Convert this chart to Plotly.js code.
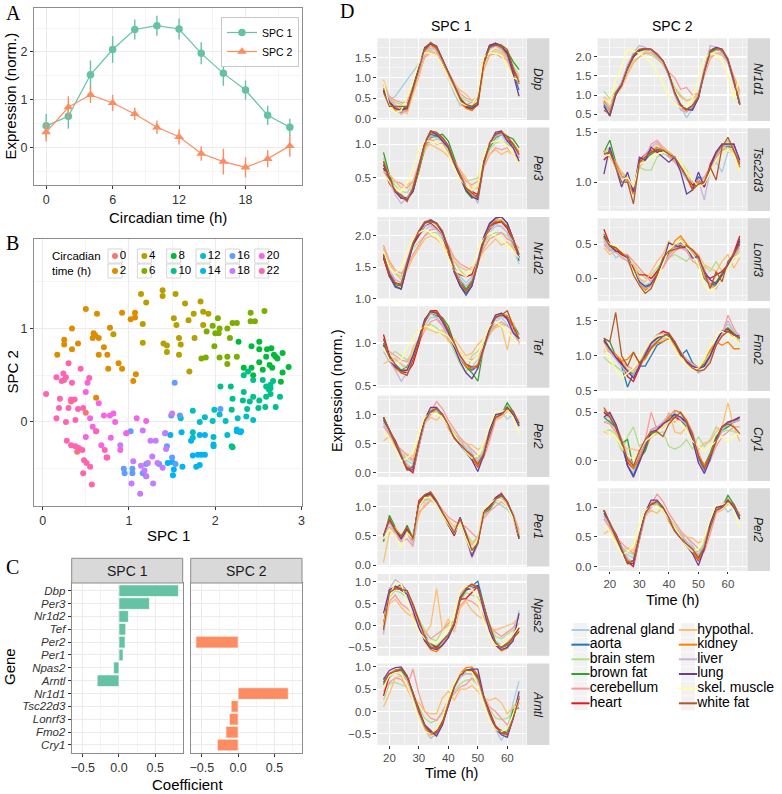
<!DOCTYPE html>
<html><head><meta charset="utf-8">
<script src="https://cdn.plot.ly/plotly-3.0.1.min.js"></script>
<style>html,body{margin:0;padding:0;background:#fff}#chart{width:782px;height:794px}</style>
</head><body><div id="chart"></div>
<script>
// ---------------- Panel A data ----------------
const circTime = [0,2,4,6,8,10,12,14,16,18,20,22];
const spc1Mean = [0.45,0.65,1.52,2.05,2.47,2.55,2.48,1.97,1.55,1.2,0.67,0.42];
const spc1Err  = [0.25,0.26,0.3,0.28,0.21,0.21,0.22,0.23,0.26,0.2,0.2,0.18];
const spc2Mean = [0.32,0.84,1.1,0.93,0.7,0.42,0.22,-0.13,-0.3,-0.42,-0.24,0.03];
const spc2Err  = [0.2,0.23,0.17,0.17,0.13,0.14,0.16,0.15,0.27,0.21,0.18,0.23];

// ---------------- Panel B data (SPC 1, SPC 2 per circadian time) ----------------
const ctLevels = [0,2,4,6,8,10,12,14,16,18,20,22];
const pts0 = [[0.4,-0.32],[0.33,0.22],[0.5,0.1],[0.25,0.45]];
const pts2 = [[0.5,1.21],[0.63,1.16],[0.34,1.0],[0.25,0.88],[0.25,0.83],[0.41,0.84],[0.17,0.72],[0.34,0.78],[0.59,0.95],[0.58,0.9],[0.65,0.9],[0.78,1.01],[0.71,0.8],[0.65,0.72],[0.75,0.72],[0.76,0.57],[0.88,0.63],[0.92,0.57],[1.08,0.51],[1.05,0.44],[0.62,0.26],[0.92,1.17],[1.02,1.1],[1.07,1.12],[1.07,1.17],[0.61,0.93]];
const pts4 = [[1.14,1.37],[1.2,1.28],[1.39,1.41],[1.39,1.35],[1.54,1.37],[1.65,1.27],[1.83,1.29],[1.86,1.18],[1.92,1.16],[1.75,1.16],[1.69,1.09],[1.52,1.11],[1.55,1.04],[1.86,1.04],[1.16,1.05],[1.16,0.85],[1.4,0.84],[1.44,0.82],[1.58,0.9],[1.6,0.83],[1.58,0.72],[1.44,0.75],[1.7,0.54],[1.76,0.9],[0.82,0.94]];
const pts6 = [[2.03,1.11],[2.05,1.0],[2.14,1.0],[2.2,1.06],[2.25,1.06],[1.99,0.81],[2.05,0.69],[2.14,0.7],[2.14,0.62],[2.25,0.7],[2.17,0.9],[2.41,1.17],[2.41,1.08],[2.46,1.08],[2.57,1.19],[2.04,0.95],[1.84,0.68],[1.89,0.69],[1.97,1.03],[1.9,0.97],[2.0,0.95]];
const pts8 = [[2.27,0.86],[2.42,0.81],[2.51,0.86],[2.51,0.78],[2.65,0.79],[2.7,0.7],[2.59,0.7],[2.78,0.74],[2.72,0.68],[2.85,0.59],[2.78,0.53],[2.76,0.43],[2.63,0.61],[2.51,0.64],[2.44,0.5],[2.33,0.58],[2.55,0.56],[2.66,0.58],[2.42,0.58],[2.6,0.78],[2.68,0.72]];
const pts10 = [[2.33,0.5],[2.44,0.45],[2.38,0.54],[2.55,0.45],[2.59,0.38],[2.64,0.4],[2.67,0.44],[2.64,0.3],[2.75,0.27],[2.59,0.27],[2.51,0.23],[2.44,0.27],[2.33,0.32],[2.32,0.23],[2.2,0.25],[2.06,0.38],[2.18,0.38],[2.37,0.14],[2.5,0.15],[2.58,0.16],[2.7,0.16],[2.4,0.22],[2.19,0.13],[2.19,-0.26],[2.2,-0.27],[2.62,0.35],[2.64,0.36]];
const pts12 = [[1.74,0.12],[1.99,0.13],[2.26,0.04],[2.36,0.06],[2.44,0.02],[2.12,0.01],[1.97,0.01],[1.82,0.0],[1.74,-0.11],[1.74,-0.17],[1.98,-0.16],[1.98,-0.26],[2.14,-0.14],[2.25,-0.08],[2.05,0.08],[1.88,0.05],[2.3,-0.1],[1.6,0.04]];
const pts14 = [[1.61,-0.11],[1.48,-0.14],[1.82,-0.14],[1.88,-0.14],[1.74,-0.36],[1.8,-0.35],[1.84,-0.35],[1.88,-0.35],[1.5,-0.43],[1.45,-0.44],[1.78,-0.48],[1.82,-0.46],[1.62,-0.48],[1.52,-0.51],[1.51,-0.57],[2.25,-0.1],[2.29,-0.11],[1.98,-0.24],[1.72,-0.2]];
const pts16 = [[1.53,0.42],[1.49,0.07],[1.59,0.07],[2.06,0.14],[0.94,-0.5],[0.95,-0.55],[1.04,-0.5],[1.04,-0.55],[1.16,-0.55],[1.2,-0.58],[1.42,-0.12],[1.44,-0.26],[1.5,-0.38],[1.54,-0.45],[1.2,-0.45],[1.35,-0.45],[1.02,-0.1]];
const pts18 = [[1.5,0.09],[0.97,-0.12],[1.16,-0.09],[1.31,-0.2],[1.43,-0.29],[1.05,-0.42],[1.14,-0.47],[1.27,-0.37],[1.33,-0.44],[1.22,-0.44],[1.2,-0.58],[1.28,-0.66],[1.03,-0.66],[1.13,-0.77],[1.39,-0.49],[1.42,-0.12],[1.18,-0.52],[1.25,-0.2],[0.9,-0.25]];
const pts20 = [[0.52,0.42],[0.5,0.32],[0.65,0.2],[0.78,0.07],[0.71,0.07],[0.82,0.09],[0.55,0.04],[0.84,0.0],[1.09,0.04],[1.2,0.01],[0.5,-0.16],[0.62,-0.1],[0.79,-0.17],[0.97,-0.12],[0.74,-0.38],[0.68,-0.25],[0.9,-0.3],[0.58,-0.05]];
const pts22 = [[0.3,0.63],[0.16,0.48],[0.24,0.52],[0.27,0.48],[0.22,0.44],[0.34,0.42],[0.44,0.57],[0.54,0.47],[0.04,0.3],[0.2,0.25],[0.33,0.24],[0.37,0.24],[0.19,0.15],[0.3,0.15],[0.41,0.14],[0.47,0.15],[0.16,0.04],[0.27,0.0],[0.38,0.02],[0.28,-0.2],[0.33,-0.25],[0.38,-0.26],[0.42,-0.28],[0.48,-0.41],[0.51,-0.44],[0.55,-0.48],[0.47,-0.55],[0.57,-0.67],[0.62,-0.1],[0.75,-0.38],[0.72,-0.3],[0.46,-0.3]];
const ptsByLevel = [pts0,pts2,pts4,pts6,pts8,pts10,pts12,pts14,pts16,pts18,pts20,pts22];

// ---------------- Panel C data ----------------
const genes = ['Dbp','Per3','Nr1d2','Tef','Per2','Per1','Npas2','Arntl','Nr1d1','Tsc22d3','Lonrf3','Fmo2','Cry1'];
const coefSPC1 = [0.82,0.42,0.13,0.093,0.084,0.056,-0.074,-0.3,0,0,0,0,0];
const coefSPC2 = [0,0,0,0,-0.58,0,0,0,0.69,-0.095,-0.12,-0.167,-0.285];

// ---------------- Panel D data ----------------
const timeH = [18,20,22,24,26,28,30,32,34,36,38,40,42,44,46,48,50,52,54,56,58,60,62,64];
const tissues = ['adrenal gland','aorta','brain stem','brown fat','cerebellum','heart','hypothal.','kidney','liver','lung','skel. muscle','white fat'];
const dbp = [
[0.75,0.45,0.55,0.75,0.95,1.15,1.35,1.6,1.72,1.7,1.35,1.0,0.62,0.32,0.32,0.35,0.5,1.35,1.7,1.78,1.7,1.5,1.1,0.95],
[0.7,0.4,0.25,0.22,0.3,0.8,1.25,1.72,1.82,1.75,1.45,1.1,0.75,0.45,0.28,0.25,0.4,1.4,1.78,1.85,1.75,1.55,1.1,0.7],
[0.85,0.5,0.4,0.35,0.45,0.8,1.15,1.55,1.65,1.6,1.35,1.1,0.8,0.55,0.45,0.4,0.5,1.25,1.6,1.65,1.6,1.5,1.3,1.05],
[0.75,0.42,0.28,0.25,0.28,0.72,1.2,1.7,1.8,1.72,1.42,1.1,0.78,0.5,0.33,0.3,0.4,1.35,1.75,1.8,1.75,1.65,1.4,1.2],
[0.9,0.55,0.45,0.4,0.4,0.75,1.1,1.5,1.62,1.55,1.4,1.15,0.9,0.62,0.5,0.45,0.55,1.2,1.55,1.6,1.5,1.45,1.2,1.0],
[0.7,0.4,0.25,0.22,0.25,0.75,1.22,1.7,1.85,1.72,1.4,1.05,0.72,0.42,0.28,0.2,0.35,1.4,1.8,1.82,1.72,1.62,1.2,0.85],
[0.95,0.5,0.35,0.2,0.12,0.6,1.0,1.55,1.68,1.6,1.3,1.05,0.85,0.7,0.6,0.45,0.3,1.2,1.6,1.7,1.65,1.4,1.05,1.0],
[0.75,0.4,0.2,0.15,0.2,0.7,1.15,1.65,1.8,1.72,1.45,1.1,0.72,0.4,0.25,0.2,0.35,1.35,1.75,1.8,1.72,1.55,1.1,0.85],
[0.85,0.5,0.3,0.1,0.25,0.7,1.2,1.6,1.78,1.65,1.4,1.1,0.75,0.5,0.35,0.4,0.55,1.45,1.75,1.78,1.7,1.5,1.05,0.9],
[0.7,0.4,0.25,0.2,0.25,0.78,1.25,1.75,1.85,1.78,1.45,1.12,0.8,0.5,0.3,0.25,0.35,1.4,1.8,1.85,1.8,1.6,1.1,0.55],
[0.9,0.3,0.15,0.2,0.5,0.95,1.35,1.62,1.6,1.55,1.3,1.0,0.68,0.4,0.32,0.35,0.6,1.5,1.62,1.6,1.55,1.3,1.0,0.95],
[0.65,0.3,0.3,0.3,0.3,0.72,1.2,1.72,1.87,1.75,1.45,1.12,0.8,0.5,0.35,0.3,0.4,1.35,1.75,1.8,1.8,1.7,1.25,0.9]];
const per3 = [
[0.65,0.45,0.3,0.25,0.2,0.35,0.7,1.0,1.1,1.12,1.05,0.95,0.72,0.5,0.32,0.3,0.4,0.75,0.98,1.05,1.15,1.0,0.95,0.85],
[0.7,0.48,0.3,0.2,0.2,0.3,0.62,0.98,1.15,1.12,1.1,0.98,0.72,0.52,0.32,0.22,0.2,0.7,0.98,1.12,1.15,1.1,1.0,0.85],
[0.8,0.55,0.38,0.3,0.28,0.4,0.65,0.9,1.05,1.08,1.05,0.9,0.7,0.55,0.45,0.48,0.5,0.7,0.92,1.02,1.05,1.0,0.95,0.85],
[0.88,0.55,0.3,0.2,0.2,0.3,0.6,0.95,1.1,1.12,1.15,1.05,0.8,0.52,0.3,0.2,0.25,0.75,0.95,1.1,1.15,1.12,1.08,0.95],
[0.7,0.55,0.45,0.42,0.35,0.45,0.7,0.95,1.08,1.0,1.02,0.85,0.7,0.6,0.45,0.4,0.45,0.65,0.85,0.95,0.92,0.95,0.85,0.8],
[0.65,0.42,0.3,0.22,0.2,0.35,0.68,1.02,1.18,1.15,1.08,0.95,0.75,0.55,0.38,0.3,0.25,0.72,1.02,1.15,1.18,1.1,0.95,0.8],
[0.6,0.55,0.45,0.35,0.4,0.45,0.68,0.95,1.0,0.95,0.9,0.82,0.75,0.62,0.5,0.35,0.35,0.7,0.85,0.92,0.85,0.9,0.85,0.72],
[0.75,0.5,0.32,0.22,0.18,0.3,0.62,0.98,1.18,1.15,1.08,0.98,0.75,0.55,0.35,0.25,0.2,0.7,1.0,1.15,1.2,1.1,1.02,0.88],
[0.6,0.45,0.25,0.12,0.2,0.35,0.7,1.0,1.12,1.1,1.05,0.95,0.75,0.55,0.38,0.3,0.12,0.68,0.98,1.12,1.15,1.05,0.95,0.8],
[0.7,0.5,0.3,0.2,0.18,0.3,0.65,1.02,1.2,1.15,1.05,0.95,0.72,0.5,0.32,0.22,0.18,0.72,1.0,1.18,1.2,1.05,0.95,0.75],
[0.55,0.45,0.35,0.3,0.42,0.65,0.9,1.05,1.05,1.02,0.98,0.85,0.65,0.48,0.38,0.32,0.4,0.85,1.02,1.05,1.05,0.98,0.85,0.7],
[0.75,0.5,0.3,0.25,0.15,0.35,0.68,1.0,1.2,1.18,1.1,0.98,0.75,0.55,0.35,0.28,0.2,0.7,1.02,1.15,1.18,1.12,1.0,0.85]];
const nr1d2 = [
[1.7,1.4,1.3,1.25,1.55,1.85,2.0,2.1,2.15,2.1,2.0,1.75,1.5,1.35,1.25,1.35,1.6,1.9,2.05,2.15,2.15,2.05,1.8,1.55],
[1.65,1.35,1.18,1.15,1.5,1.85,2.05,2.22,2.25,2.2,2.05,1.75,1.42,1.2,1.05,1.2,1.55,1.95,2.18,2.28,2.3,2.2,1.95,1.6],
[1.8,1.55,1.4,1.35,1.6,1.8,1.9,2.0,2.05,2.05,1.95,1.8,1.6,1.45,1.35,1.4,1.6,1.85,2.0,2.05,2.05,2.0,1.85,1.75],
[1.7,1.4,1.22,1.2,1.55,1.85,2.05,2.2,2.22,2.2,2.05,1.8,1.5,1.3,1.15,1.28,1.6,1.95,2.15,2.2,2.22,2.12,1.92,1.7],
[1.85,1.6,1.45,1.4,1.5,1.7,1.85,2.0,2.1,2.1,2.0,1.85,1.65,1.55,1.5,1.45,1.55,1.8,1.95,2.0,2.05,1.95,1.9,1.8],
[1.65,1.35,1.25,1.22,1.55,1.85,2.0,2.15,2.2,2.12,2.0,1.72,1.45,1.38,1.35,1.38,1.6,1.9,2.1,2.2,2.22,2.12,1.9,1.65],
[1.8,1.55,1.4,1.3,1.45,1.65,1.8,1.95,2.0,1.95,1.85,1.75,1.6,1.5,1.45,1.5,1.6,1.75,1.85,1.95,1.85,1.9,1.8,1.7],
[1.7,1.38,1.2,1.15,1.55,1.88,2.08,2.22,2.25,2.18,2.05,1.75,1.45,1.22,1.08,1.22,1.55,1.95,2.15,2.25,2.25,2.15,1.95,1.65],
[1.75,1.45,1.3,1.25,1.6,1.9,2.05,2.15,2.18,2.1,2.0,1.8,1.5,1.3,1.2,1.3,1.62,1.95,2.12,2.18,2.15,2.05,1.9,1.7],
[1.7,1.38,1.2,1.15,1.52,1.85,2.05,2.2,2.25,2.2,2.05,1.78,1.42,1.2,1.08,1.2,1.58,1.98,2.2,2.28,2.3,2.2,1.95,1.65],
[1.75,1.5,1.4,1.5,1.75,1.95,2.05,2.1,2.05,2.0,1.85,1.65,1.45,1.4,1.35,1.45,1.8,1.95,2.05,2.0,1.95,1.85,1.75,1.65],
[1.7,1.4,1.25,1.22,1.58,1.88,2.08,2.22,2.22,2.2,2.08,1.8,1.45,1.25,1.12,1.25,1.55,1.92,2.15,2.22,2.22,2.15,1.95,1.7]];
const tef = [
[0.95,0.85,0.8,0.75,0.72,0.85,1.0,1.2,1.3,1.3,1.2,1.1,0.95,0.82,0.75,0.72,0.8,0.95,1.12,1.25,1.3,1.22,1.12,1.0],
[1.05,0.85,0.75,0.68,0.68,0.82,1.02,1.25,1.37,1.35,1.27,1.15,0.98,0.82,0.72,0.68,0.72,0.95,1.15,1.3,1.33,1.3,1.18,1.05],
[0.95,0.85,0.9,0.85,0.8,0.9,1.05,1.2,1.22,1.18,1.1,1.05,0.9,0.75,0.65,0.85,0.9,1.0,1.1,1.2,1.22,1.2,1.15,1.05],
[1.0,0.82,0.72,0.68,0.72,0.85,1.05,1.25,1.35,1.32,1.3,1.2,1.0,0.82,0.72,0.65,0.55,0.95,1.15,1.3,1.32,1.3,1.22,1.1],
[0.95,0.9,0.85,0.8,0.78,0.85,1.0,1.15,1.25,1.28,1.2,1.05,0.95,0.88,0.82,0.8,0.85,0.95,1.1,1.2,1.25,1.2,1.15,1.1],
[1.1,0.85,0.72,0.66,0.65,0.75,0.98,1.25,1.38,1.38,1.28,1.15,1.0,0.85,0.75,0.7,0.72,0.95,1.15,1.3,1.33,1.3,1.18,1.0],
[0.75,0.8,0.82,0.75,0.68,0.95,1.05,1.18,1.15,1.12,1.15,1.02,1.05,0.95,0.85,0.88,0.98,1.05,1.12,1.18,1.2,0.92,1.25,0.98],
[0.98,0.8,0.7,0.65,0.68,0.82,1.02,1.25,1.37,1.35,1.28,1.15,0.98,0.82,0.72,0.7,0.75,0.95,1.15,1.32,1.35,1.32,1.2,1.05],
[0.9,0.78,0.68,0.55,0.65,0.82,1.05,1.28,1.35,1.3,1.22,1.1,0.95,0.82,0.75,0.72,0.7,0.92,1.12,1.28,1.32,1.28,1.15,1.0],
[0.98,0.8,0.72,0.67,0.68,0.85,1.05,1.28,1.37,1.35,1.25,1.12,0.95,0.78,0.65,0.58,0.7,0.95,1.18,1.33,1.35,1.28,1.12,1.05],
[0.95,0.8,0.75,0.8,0.95,1.05,1.15,1.2,1.18,1.15,1.12,1.08,0.98,0.88,0.82,0.78,0.85,1.05,1.2,1.25,1.2,1.12,1.05,1.0],
[1.05,0.85,0.75,0.65,0.62,0.8,1.02,1.25,1.38,1.36,1.28,1.15,1.0,0.85,0.75,0.72,0.72,0.95,1.15,1.3,1.33,1.38,1.2,1.05]];
const per2 = [
[0.85,0.75,0.55,0.35,0.2,0.15,0.5,0.85,1.0,1.05,0.95,0.8,0.62,0.55,0.5,0.35,0.2,0.4,0.75,0.9,1.05,0.92,1.0,0.85],
[0.9,0.7,0.55,0.3,0.08,0.1,0.52,0.88,1.02,1.08,0.98,0.8,0.62,0.5,0.38,0.25,0.12,0.32,0.72,0.98,1.0,1.1,1.0,0.8],
[0.8,0.68,0.48,0.32,0.25,0.2,0.48,0.85,1.0,1.05,0.95,0.82,0.68,0.55,0.42,0.3,0.25,0.38,0.72,0.92,1.0,1.15,1.0,0.8],
[0.95,0.7,0.5,0.28,0.1,0.08,0.5,0.9,1.05,1.08,0.98,0.82,0.62,0.5,0.38,0.25,0.15,0.35,0.72,0.98,1.0,1.2,1.05,0.85],
[0.8,0.65,0.5,0.4,0.3,0.22,0.45,0.85,1.05,1.22,1.1,0.9,0.75,0.6,0.5,0.4,0.3,0.25,0.55,0.9,1.0,1.1,1.0,0.85],
[0.95,0.72,0.55,0.3,0.08,0.0,0.48,0.9,1.05,1.1,1.0,0.82,0.6,0.48,0.38,0.25,0.1,0.3,0.72,0.95,1.0,1.12,1.02,0.85],
[0.55,0.62,0.45,0.3,0.32,0.28,0.55,0.85,0.95,0.9,1.0,0.75,0.6,0.55,0.5,0.48,0.4,0.45,0.7,0.9,0.95,1.05,1.0,0.9],
[0.95,0.72,0.52,0.3,0.1,0.08,0.5,0.9,1.05,1.1,1.0,0.82,0.62,0.5,0.38,0.25,0.12,0.3,0.7,0.98,1.02,1.12,1.02,0.82],
[0.85,0.7,0.5,0.32,0.15,0.05,0.45,0.85,1.0,1.08,1.0,0.82,0.65,0.55,0.42,0.32,0.2,0.35,0.72,0.95,1.05,1.12,1.0,0.85],
[0.95,0.72,0.5,0.28,0.05,0.05,0.52,0.92,1.12,1.12,1.0,0.8,0.6,0.48,0.35,0.22,0.02,0.3,0.72,1.0,1.02,1.12,1.0,0.8],
[0.7,0.6,0.4,0.2,0.25,0.35,0.7,0.95,1.02,1.02,0.95,0.8,0.65,0.5,0.35,0.25,0.3,0.5,0.8,1.05,1.05,1.08,0.95,0.65],
[0.95,0.72,0.52,0.3,0.05,0.1,0.5,0.9,1.05,1.1,1.0,0.82,0.6,0.48,0.38,0.3,0.15,0.32,0.65,0.95,1.0,1.1,1.05,0.85]];
const per1 = [
[0.45,0.65,0.55,0.5,0.6,0.5,1.0,1.1,1.12,1.02,0.85,0.7,0.6,0.7,0.45,0.35,0.5,0.85,0.95,1.08,1.02,0.95,0.82,0.55],
[0.5,0.75,0.62,0.45,0.62,0.45,1.05,1.15,1.2,1.05,0.88,0.68,0.52,0.8,0.5,0.2,0.38,0.92,1.0,1.12,1.18,1.05,0.85,0.5],
[0.42,0.78,0.6,0.5,0.65,0.5,1.0,1.1,1.15,1.05,0.85,0.72,0.58,0.75,0.55,0.4,0.45,0.85,0.95,1.1,1.12,1.0,0.85,0.52],
[0.4,0.85,0.65,0.45,0.68,0.45,1.05,1.18,1.22,1.08,0.9,0.72,0.55,0.8,0.5,0.25,0.42,0.88,0.95,1.1,1.2,1.05,0.85,0.45],
[0.45,0.65,0.5,0.4,0.45,0.32,0.9,1.0,1.1,1.08,0.95,0.82,0.75,0.7,0.65,0.55,0.45,0.8,0.92,1.0,1.08,1.0,0.88,0.6],
[0.5,0.78,0.6,0.45,0.58,0.42,1.1,1.2,1.22,1.08,0.88,0.7,0.5,0.78,0.48,0.22,0.38,0.9,1.0,1.15,1.22,1.08,0.85,0.48],
[0.05,0.55,0.65,0.5,0.58,0.42,0.85,1.05,1.1,1.05,0.9,0.78,0.65,0.75,0.55,0.35,0.45,0.95,1.0,1.1,1.25,1.0,0.88,0.55],
[0.48,0.75,0.58,0.45,0.6,0.42,1.02,1.15,1.2,1.05,0.88,0.7,0.55,0.8,0.52,0.22,0.42,0.92,1.0,1.12,1.2,1.05,0.85,0.5],
[0.45,0.72,0.55,0.42,0.55,0.35,0.98,1.12,1.15,1.05,0.9,0.72,0.58,0.78,0.45,0.12,0.35,0.88,0.98,1.1,1.15,1.05,0.88,0.5],
[0.5,0.78,0.6,0.45,0.62,0.45,1.05,1.18,1.22,1.08,0.88,0.7,0.52,0.82,0.48,0.15,0.38,0.92,1.0,1.15,1.22,1.08,0.82,0.45],
[0.45,0.62,0.5,0.3,0.55,0.45,1.0,1.15,1.15,1.02,0.85,0.7,0.55,0.72,0.45,0.22,0.45,0.95,1.05,1.12,1.12,1.0,0.8,0.5],
[0.5,0.8,0.6,0.5,0.65,0.45,1.05,1.2,1.25,1.1,0.9,0.72,0.55,0.8,0.55,0.25,0.38,0.9,0.98,1.12,1.2,1.08,0.85,0.48]];
const npas2 = [
[-0.05,0.75,0.9,0.85,0.75,0.4,0.05,-0.2,-0.42,-0.5,-0.38,-0.25,0.0,0.55,0.8,0.9,0.85,0.45,0.0,-0.35,-0.45,-0.42,-0.25,0.35],
[0.0,0.78,0.85,0.95,0.78,0.42,0.05,-0.22,-0.48,-0.5,-0.35,-0.2,0.05,0.65,0.82,0.9,1.02,0.45,-0.05,-0.4,-0.5,-0.45,-0.28,-0.05],
[-0.15,0.65,0.8,0.75,0.65,0.45,0.15,-0.1,-0.3,-0.35,-0.1,0.0,0.1,0.55,0.75,0.7,0.65,0.4,0.05,-0.25,-0.3,-0.2,-0.1,0.05],
[0.0,0.8,0.88,0.82,0.78,0.45,0.05,-0.3,-0.42,-0.48,-0.35,-0.2,0.02,0.6,0.82,0.92,0.9,0.45,-0.05,-0.38,-0.5,-0.45,-0.3,-0.12],
[-0.1,0.55,0.7,0.5,0.4,0.25,0.05,-0.15,-0.3,-0.2,-0.1,0.05,0.1,0.45,0.6,0.55,0.45,0.2,0.0,-0.15,-0.25,-0.15,-0.05,0.2],
[0.0,0.8,0.9,0.85,0.8,0.45,0.05,-0.3,-0.45,-0.5,-0.4,-0.22,0.05,0.6,0.62,0.75,0.9,0.45,-0.05,-0.42,-0.5,-0.4,-0.22,-0.05],
[-0.1,0.5,0.6,0.42,0.28,0.2,0.0,-0.2,0.0,0.85,-0.1,0.15,-0.15,0.4,0.55,0.35,0.22,0.15,-0.05,-0.1,-0.05,0.0,0.05,0.2],
[0.0,0.8,0.88,0.88,0.78,0.4,0.0,-0.35,-0.55,-0.6,-0.45,-0.25,0.05,0.65,0.88,0.95,0.9,0.4,-0.05,-0.45,-0.58,-0.52,-0.3,-0.12],
[-0.2,0.85,1.05,0.95,0.75,0.35,0.0,-0.25,-0.45,-0.55,-0.4,-0.2,0.05,0.7,0.9,0.92,0.85,0.35,-0.1,-0.4,-0.5,-0.42,-0.2,0.3],
[0.28,0.82,0.9,0.8,0.72,0.35,-0.05,-0.35,-0.52,-0.55,-0.45,-0.28,0.02,0.65,0.82,0.85,0.92,0.35,-0.12,-0.45,-0.55,-0.5,-0.35,0.28],
[0.0,0.65,1.0,0.95,0.55,0.15,-0.15,-0.3,-0.38,-0.38,-0.25,-0.1,0.3,0.8,0.9,0.85,0.55,0.1,-0.25,-0.45,-0.45,-0.35,-0.2,0.0],
[-0.1,0.75,0.85,0.82,0.8,0.5,0.1,-0.25,-0.5,-0.52,-0.35,-0.22,0.05,0.6,0.85,0.95,0.85,0.45,0.0,-0.4,-0.5,-0.42,-0.28,-0.15]];
const arntl = [
[0.55,0.75,0.9,0.85,0.7,0.35,-0.05,-0.38,-0.5,-0.45,-0.2,0.2,0.55,0.75,0.85,0.82,0.75,0.3,-0.12,-0.4,-0.65,-0.4,0.2,0.68],
[0.6,0.82,0.92,0.95,0.8,0.4,0.0,-0.32,-0.5,-0.48,-0.25,0.15,0.55,0.82,0.92,0.95,0.8,0.3,-0.05,-0.38,-0.5,-0.52,-0.15,0.3],
[0.25,0.62,0.65,0.6,0.55,0.4,0.1,-0.15,-0.25,-0.2,-0.05,0.2,0.45,0.62,0.7,0.72,0.6,0.3,0.05,-0.15,-0.18,-0.15,0.0,0.2],
[0.65,0.82,0.9,0.92,0.75,0.4,0.0,-0.35,-0.5,-0.45,-0.22,0.18,0.55,0.8,0.9,0.92,0.75,0.3,-0.05,-0.38,-0.42,-0.48,0.05,0.08],
[0.45,0.65,0.75,0.72,0.55,0.95,0.4,0.0,-0.15,-0.2,0.0,0.25,0.4,0.55,0.6,0.75,0.65,0.35,0.1,0.0,-0.15,-0.3,-0.1,0.2],
[0.35,0.8,0.92,0.95,0.78,0.42,0.02,-0.3,-0.45,-0.45,-0.22,0.18,0.58,0.82,0.9,0.92,0.78,0.32,-0.02,-0.32,-0.45,-0.5,-0.12,0.35],
[0.1,0.4,0.75,0.8,0.5,0.25,0.2,0.0,-0.05,-0.05,0.3,0.45,0.25,0.5,0.5,0.58,0.45,0.3,0.25,0.3,0.2,-0.05,0.1,0.25],
[0.7,0.85,0.92,0.95,0.78,0.4,-0.02,-0.35,-0.52,-0.48,-0.25,0.18,0.58,0.85,0.98,1.0,0.82,0.32,-0.08,-0.38,-0.48,-0.5,-0.15,0.32],
[0.75,0.8,0.88,0.8,0.7,0.35,-0.05,-0.4,-0.6,-0.5,-0.3,0.15,0.52,0.78,0.85,0.85,0.7,0.25,-0.1,-0.4,-0.5,-0.52,-0.1,0.4],
[0.72,0.92,0.98,1.0,0.8,0.4,0.0,-0.3,-0.42,-0.55,-0.3,0.15,0.55,0.82,0.92,0.95,0.95,0.35,-0.05,-0.38,-0.52,-0.58,-0.15,0.45],
[0.55,0.8,0.88,0.85,0.6,0.25,-0.2,-0.45,-0.5,-0.4,-0.15,0.3,0.62,0.85,0.9,0.88,0.6,0.15,-0.2,-0.4,-0.45,-0.38,-0.05,0.3],
[0.65,0.85,0.9,0.95,0.78,0.42,0.0,-0.32,-0.48,-0.48,-0.25,0.15,0.55,0.82,0.92,0.92,0.78,0.32,-0.05,-0.35,-0.48,-0.52,-0.15,0.3]];
const nr1d1 = [
[0.9,0.65,1.0,1.25,1.65,2.0,2.15,2.2,2.15,2.0,1.85,1.5,1.0,0.7,0.4,0.65,0.9,1.6,2.1,2.2,2.15,1.85,1.35,0.85],
[0.75,0.45,1.0,1.28,1.72,2.02,2.18,2.22,2.18,2.05,1.88,1.55,1.05,0.72,0.6,0.65,0.95,1.65,2.18,2.25,2.18,1.9,1.35,0.78],
[1.1,0.9,1.1,1.3,1.6,1.9,2.0,2.1,2.05,1.95,1.8,1.55,1.2,1.0,0.85,0.9,1.05,1.6,2.0,2.1,2.05,1.85,1.4,1.05],
[0.8,0.6,1.05,1.3,1.72,2.0,2.15,2.2,2.18,2.05,1.88,1.52,1.05,0.72,0.62,0.72,1.0,1.62,2.12,2.2,2.15,1.9,1.38,0.8],
[0.95,0.8,1.0,1.2,1.55,1.85,2.0,2.1,2.1,2.0,1.85,1.6,1.45,1.15,1.2,1.0,1.05,1.5,1.95,2.1,2.1,1.9,1.5,1.1],
[0.8,0.6,1.05,1.3,1.7,2.0,2.18,2.22,2.2,2.05,1.9,1.55,1.05,0.7,0.58,0.7,0.95,1.62,2.15,2.25,2.2,1.92,1.38,0.75],
[0.9,0.7,1.0,1.2,1.55,1.85,2.0,2.15,2.1,2.0,1.8,1.5,1.15,0.95,0.85,0.9,1.0,1.55,2.0,2.1,2.05,1.85,1.45,1.0],
[0.85,0.55,1.05,1.3,1.72,2.05,2.2,2.22,2.18,2.05,1.88,1.55,1.05,0.7,0.58,0.68,0.92,1.65,2.18,2.22,2.18,1.9,1.32,0.78],
[0.8,0.6,1.05,1.35,1.8,2.1,2.3,2.25,2.15,2.0,1.85,1.5,1.0,0.6,0.55,0.7,1.0,1.7,2.3,2.25,2.1,1.85,1.3,0.8],
[0.7,0.45,1.0,1.25,1.7,2.02,2.18,2.22,2.2,2.08,1.9,1.55,1.05,0.75,0.62,0.6,0.92,1.6,2.15,2.25,2.2,1.92,1.35,0.75],
[0.9,0.8,1.4,1.75,2.2,2.15,2.1,2.0,1.85,1.6,1.3,0.95,0.75,0.68,0.7,0.9,1.4,1.95,2.1,2.05,1.9,1.5,0.9,1.5],
[0.6,0.5,1.05,1.28,1.7,2.05,2.2,2.22,2.2,2.08,1.9,1.55,1.05,0.72,0.62,0.72,0.95,1.62,2.15,2.22,2.2,1.95,1.4,0.75]];
const tsc22d3 = [
[1.3,1.3,1.15,1.05,1.0,0.92,1.15,1.22,1.28,1.35,1.3,1.25,1.2,1.12,1.02,0.98,1.05,1.05,1.12,1.2,1.1,1.3,1.3,1.2],
[1.22,1.3,1.18,1.05,1.05,0.88,1.2,1.22,1.3,1.33,1.3,1.28,1.25,1.15,1.05,0.95,1.05,1.0,1.15,1.28,1.36,1.36,1.35,1.15],
[1.3,1.35,1.2,1.1,1.05,0.95,1.15,1.12,1.12,1.25,1.28,1.3,1.25,1.2,1.12,1.0,0.98,1.02,1.15,1.25,1.3,1.42,1.3,1.25],
[1.3,1.42,1.2,1.05,1.02,0.9,1.2,1.25,1.28,1.32,1.35,1.3,1.25,1.15,1.05,0.95,0.98,1.0,1.15,1.25,1.32,1.35,1.35,1.2],
[1.25,1.3,1.2,1.08,1.05,0.95,1.18,1.25,1.38,1.42,1.35,1.25,1.2,1.12,1.05,1.0,0.98,1.05,1.15,1.25,1.3,1.32,1.28,1.2],
[1.22,1.28,1.15,1.05,1.0,0.9,1.22,1.28,1.32,1.3,1.32,1.28,1.22,1.15,1.05,0.97,1.02,0.95,1.18,1.3,1.38,1.38,1.38,1.2],
[1.32,1.25,1.15,1.1,1.02,0.92,1.15,1.25,1.3,1.38,1.35,1.3,1.25,1.15,1.1,1.0,0.98,1.02,1.12,1.2,1.32,1.35,1.3,1.15],
[1.28,1.3,1.18,1.05,1.02,0.88,1.2,1.25,1.3,1.35,1.32,1.27,1.22,1.15,1.05,0.95,1.0,0.98,1.15,1.28,1.38,1.38,1.35,1.15],
[1.25,1.3,1.15,1.05,1.0,0.92,1.18,1.28,1.35,1.4,1.32,1.25,1.22,1.12,1.05,1.0,1.02,0.82,1.12,1.25,1.35,1.38,1.35,1.2],
[1.08,1.35,1.15,0.95,1.1,0.9,1.25,1.22,1.35,1.3,1.25,1.2,1.25,1.1,0.88,0.92,1.1,0.95,1.15,1.3,1.38,1.38,1.38,1.22],
[1.25,1.28,1.15,1.02,1.05,0.95,1.18,1.2,1.25,1.28,1.3,1.28,1.25,1.2,1.1,1.02,0.95,0.98,1.1,1.22,1.3,1.32,1.28,1.1],
[1.28,1.3,1.15,1.0,1.0,0.78,1.2,1.25,1.3,1.32,1.32,1.28,1.25,1.15,1.05,0.92,0.98,1.0,1.15,1.02,1.35,1.45,1.32,1.18]];
const lonrf3 = [
[0.55,0.45,0.3,0.35,0.3,0.1,0.0,-0.1,-0.05,0.1,0.25,0.4,0.45,0.5,0.42,0.35,0.28,0.02,-0.12,-0.1,0.05,0.15,0.3,0.5],
[0.58,0.5,0.4,0.38,0.32,0.15,-0.05,-0.15,-0.1,0.05,0.2,0.35,0.5,0.52,0.48,0.38,0.28,0.05,-0.08,-0.1,0.02,0.18,0.35,0.58],
[0.5,0.45,0.42,0.35,0.3,0.2,0.1,0.0,0.05,0.15,0.25,0.3,0.35,0.3,0.25,0.35,0.15,0.18,0.1,0.25,0.1,0.2,0.28,0.4],
[0.65,0.48,0.45,0.35,0.32,0.12,-0.05,-0.15,-0.08,0.1,0.25,0.38,0.5,0.48,0.45,0.38,0.3,0.0,-0.1,-0.05,0.08,0.2,0.35,0.55],
[0.5,0.4,0.45,0.35,0.35,0.25,0.15,0.05,-0.05,0.1,0.15,0.3,0.4,0.45,0.4,0.25,0.2,0.15,-0.1,0.05,0.1,0.2,0.3,0.45],
[0.72,0.5,0.4,0.35,0.3,0.15,0.05,0.05,0.0,0.1,0.2,0.35,0.45,0.48,0.45,0.38,0.3,0.05,0.0,0.05,0.1,0.2,0.38,0.62],
[0.45,0.35,0.4,0.3,0.25,0.2,0.0,-0.05,0.1,0.25,0.35,0.55,0.42,0.58,0.45,0.42,0.35,0.2,0.15,0.1,0.25,0.35,0.15,0.3],
[0.62,0.48,0.42,0.38,0.3,0.1,-0.08,-0.18,-0.1,0.05,0.2,0.35,0.55,0.62,0.5,0.4,0.28,0.02,-0.1,-0.12,0.05,0.2,0.35,0.52],
[0.55,0.42,0.38,0.32,0.25,0.1,-0.05,-0.15,-0.12,0.05,0.2,0.35,0.48,0.5,0.45,0.38,0.28,0.05,-0.12,-0.15,0.02,0.18,0.3,0.5],
[0.62,0.48,0.4,0.38,0.32,0.1,-0.05,-0.12,-0.08,0.05,0.25,0.52,0.48,0.45,0.45,0.3,0.32,0.1,-0.02,-0.08,0.05,0.2,0.35,0.55],
[0.58,0.5,0.48,0.4,0.3,0.1,-0.1,-0.2,-0.15,0.0,0.2,0.42,0.5,0.55,0.45,0.35,0.2,-0.1,-0.2,-0.12,0.0,0.15,0.3,0.35],
[0.6,0.48,0.45,0.38,0.3,0.05,-0.1,-0.22,-0.15,0.05,0.3,0.4,0.42,0.45,0.48,0.42,0.32,0.08,-0.15,0.1,-0.05,0.25,0.35,0.5]];
const fmo2 = [
[1.2,1.1,1.0,0.92,0.8,0.75,0.85,1.0,1.15,1.22,1.25,1.25,1.15,1.02,0.95,0.88,0.8,0.85,1.0,1.2,1.35,1.45,1.35,1.2],
[1.25,1.1,0.98,0.85,0.55,0.75,0.85,0.85,1.0,1.15,1.2,1.25,1.18,1.0,1.08,0.9,0.82,0.85,1.0,1.15,1.3,1.35,1.3,1.25],
[0.98,0.9,0.85,0.78,0.72,0.75,0.9,1.05,1.2,1.3,1.35,1.3,1.2,1.05,0.95,0.88,0.8,0.9,1.05,1.2,1.35,1.4,1.32,1.2],
[1.25,1.2,1.0,0.88,0.8,0.72,0.85,1.05,1.18,1.25,1.28,1.28,1.2,1.02,0.92,0.85,0.82,0.88,1.0,1.2,1.35,1.4,1.32,1.25],
[1.1,1.05,1.0,0.92,0.85,0.8,0.88,1.0,1.15,1.3,1.35,1.3,1.2,1.05,0.95,0.88,0.82,0.85,0.95,1.15,1.3,1.58,1.4,1.25],
[1.22,1.1,1.0,0.9,0.7,0.63,0.82,1.02,1.2,1.28,1.35,1.32,1.2,1.02,0.92,0.85,0.82,0.85,1.0,1.2,1.35,1.38,1.3,1.25],
[1.05,1.1,1.0,0.95,0.8,0.78,0.85,1.0,1.1,1.2,1.22,1.25,1.15,1.0,0.92,0.88,0.82,0.85,0.95,1.15,1.3,1.35,1.25,1.2],
[1.2,1.08,1.02,0.92,0.95,1.05,0.88,0.95,1.1,1.18,1.2,1.25,1.15,1.0,0.95,0.85,0.8,0.95,1.08,1.2,1.15,1.2,1.1,1.1],
[1.15,1.05,0.95,0.85,0.75,0.72,0.85,1.05,1.2,1.3,1.32,1.3,1.2,1.05,0.95,0.85,0.75,0.8,0.95,1.15,1.3,1.5,1.35,1.3],
[1.22,1.1,0.98,0.88,0.78,0.68,0.85,1.02,1.18,1.25,1.3,1.3,1.18,1.02,0.92,0.85,0.82,0.85,1.0,1.2,1.35,1.35,1.3,1.28],
[1.15,0.95,0.8,0.68,0.75,0.82,0.95,1.1,1.22,1.28,1.3,1.25,1.1,0.95,0.88,0.8,0.82,0.95,1.15,1.3,1.35,1.3,1.25,1.18],
[1.25,1.2,1.62,1.0,0.85,1.05,0.9,0.98,1.12,1.2,1.28,1.32,1.2,1.05,0.9,0.82,0.78,0.8,0.9,1.15,1.28,1.35,1.3,1.25]];
const cry1 = [
[0.4,0.42,0.32,0.15,-0.05,-0.12,0.05,0.2,0.3,0.32,0.4,0.45,0.52,0.48,0.38,0.2,0.02,-0.08,0.05,0.2,0.3,0.35,0.4,0.42],
[0.5,0.45,0.35,0.18,-0.05,-0.15,0.0,0.15,0.28,0.32,0.38,0.45,0.48,0.45,0.38,0.22,0.02,-0.1,0.02,0.2,0.32,0.38,0.4,0.45],
[0.3,0.32,0.28,0.1,0.25,0.35,0.15,0.2,0.25,0.28,0.3,0.15,0.12,0.15,0.22,0.12,0.25,0.15,0.22,0.35,0.3,0.32,0.3,0.28],
[0.45,0.4,0.35,0.18,0.22,-0.08,0.02,0.1,0.28,0.3,0.38,0.42,0.48,0.42,0.35,0.22,0.05,-0.05,0.08,0.25,0.32,0.35,0.4,0.42],
[0.4,0.38,0.3,0.22,0.05,-0.05,0.05,0.22,0.5,0.32,0.4,0.45,0.4,0.45,0.42,0.3,0.1,-0.08,0.0,0.15,0.25,0.3,0.35,0.35],
[0.5,0.45,0.35,0.2,-0.02,-0.08,0.05,0.18,0.32,0.35,0.35,0.4,0.45,0.42,0.38,0.25,0.05,-0.05,0.05,0.22,0.35,0.38,0.42,0.45],
[0.3,0.28,0.25,0.18,0.12,0.12,0.1,0.2,0.25,0.3,0.35,0.5,0.3,0.28,0.35,0.22,0.12,0.18,0.2,0.3,0.35,0.6,0.35,0.2],
[0.52,0.48,0.38,0.22,0.0,-0.08,0.02,0.15,0.25,0.3,0.38,0.45,0.52,0.5,0.42,0.25,0.05,-0.05,0.05,0.22,0.35,0.4,0.42,0.42],
[0.45,0.45,0.38,0.22,0.02,-0.05,0.05,0.2,0.32,0.35,0.4,0.48,0.5,0.42,0.38,0.22,0.0,-0.12,0.0,0.2,0.32,0.38,0.4,0.42],
[0.45,0.5,0.38,0.2,-0.05,-0.17,-0.02,0.15,0.3,0.32,0.38,0.42,0.48,0.45,0.4,0.22,-0.02,-0.13,0.02,0.22,0.35,0.4,0.42,0.45],
[0.32,0.28,0.25,0.15,0.05,0.02,0.1,0.2,0.25,0.3,0.35,0.4,0.42,0.38,0.32,0.2,0.15,0.1,0.15,0.2,0.25,0.2,0.25,0.3],
[0.55,0.45,0.35,0.2,0.02,-0.05,0.1,0.22,0.3,0.3,0.25,0.38,0.45,0.5,0.4,0.28,0.05,-0.08,0.05,0.2,0.35,0.38,0.35,0.28]];

const spc1Genes = ['Dbp','Per3','Nr1d2','Tef','Per2','Per1','Npas2','Arntl'];
const spc2Genes = ['Nr1d1','Tsc22d3','Lonrf3','Fmo2','Cry1','Per2'];
const spc1Data = [dbp, per3, nr1d2, tef, per2, per1, npas2, arntl];
const spc2Data = [nr1d1, tsc22d3, lonrf3, fmo2, cry1, per2];

// ---------------- styles / layout ----------------
const hueColors = ['#F8766D','#DE8C00','#B79F00','#7CAE00','#00BA38','#00C08B','#00BFC4','#00B4F0','#619CFF','#C77CFF','#F564E3','#FF64B0'];
const tissueColors = ['#A6CEE3','#1F78B4','#B2DF8A','#33A02C','#FB9A99','#E31A1C','#FDBF6F','#FF7F00','#CAB2D6','#6A3D9A','#FFFF99','#B15928'];
const spc1RowRanges = [[-0.03,1.97],[0.035,1.25],[1.0,2.3],[0.473,1.433],[-0.075,1.326],[-0.02,1.37],[-0.69,1.18],[-0.75,1.077]];
const spc2RowRanges = [[0.32,2.49],[0.71,1.54],[-0.33,0.88],[0.495,1.68],[-0.207,0.645],[-0.072,1.32]];

const W = 782, H = 794;
const fx = p => p / W;
const fy = p => 1 - p / H;
const FONT = '"Liberation Sans", Arial, sans-serif';
const SERIF = '"Liberation Serif", "Times New Roman", serif';

const traces = [];
const shapes = [];
const annotations = [];
const layout = {
  width: W, height: H, autosize: false,
  margin: {l:0, r:0, t:0, b:0, pad:0},
  paper_bgcolor: '#ffffff', plot_bgcolor: 'rgba(0,0,0,0)',
  font: {family: FONT, color: '#000'},
  bargap: 0.1, showlegend: true,
  shapes: shapes, annotations: annotations
};

function bwAxis(extra) {
  return Object.assign({
    showline: true, mirror: true, linecolor: '#8c8c8c', linewidth: 1,
    showgrid: true, gridcolor: '#EBEBEB', gridwidth: 1, zeroline: false,
    ticks: 'outside', ticklen: 3, tickcolor: '#333', tickwidth: 1,
    tickfont: {size: 12.5, color: '#333', family: FONT}, fixedrange: true
  }, extra);
}
function ann(text, px, py, opts) {
  annotations.push(Object.assign({text: text, x: fx(px), y: fy(py), xref: 'paper', yref: 'paper',
    showarrow: false, xanchor: 'center', yanchor: 'middle', font: {size: 15, family: FONT, color: '#000'}}, opts || {}));
}

// ---- Panel A ----
layout.xaxis = bwAxis({domain: [fx(34), fx(302)], anchor: 'y', range: [-1.1, 23.1], tickvals: [0,6,12,18],
  minor: {tickvals: [3,9,15,21], showgrid: true, gridcolor: '#EBEBEB', gridwidth: 0.5, ticks: ''}});
layout.yaxis = bwAxis({domain: [fy(185), fy(8)], anchor: 'x', range: [-0.79, 2.92], tickvals: [0,1,2],
  minor: {tickvals: [-0.5,0.5,1.5,2.5], showgrid: true, gridcolor: '#EBEBEB', gridwidth: 0.5, ticks: ''}});
traces.push({type: 'scatter', mode: 'lines+markers', x: circTime, y: spc1Mean, name: 'SPC 1', xaxis: 'x', yaxis: 'y',
  error_y: {type: 'data', array: spc1Err, visible: true, color: '#66C2A5', thickness: 1.4, width: 0},
  line: {color: '#66C2A5', width: 1.2}, marker: {color: '#66C2A5', size: 7.5, symbol: 'circle'}, legend: 'legend'});
traces.push({type: 'scatter', mode: 'lines+markers', x: circTime, y: spc2Mean, name: 'SPC 2', xaxis: 'x', yaxis: 'y',
  error_y: {type: 'data', array: spc2Err, visible: true, color: '#FC8D62', thickness: 1.4, width: 0},
  line: {color: '#FC8D62', width: 1.2}, marker: {color: '#FC8D62', size: 8.5, symbol: 'triangle-up'}, legend: 'legend'});
layout.legend = {x: fx(299), y: fy(17), xanchor: 'right', yanchor: 'top', bgcolor: '#ffffff',
  bordercolor: '#c8c8c8', borderwidth: 1, font: {size: 10.5, family: FONT}, itemwidth: 30, tracegroupgap: 0};
ann('Expression (norm.)', 10, 96.5, {textangle: -90});
ann('Circadian time (h)', 168, 217);

// ---- Panel B ----
layout.xaxis2 = bwAxis({domain: [fx(34), fx(302)], anchor: 'y2', range: [-0.1, 3.005], tickvals: [0,1,2,3],
  minor: {tickvals: [0.5,1.5,2.5], showgrid: true, gridcolor: '#EBEBEB', gridwidth: 0.5, ticks: ''}});
layout.yaxis2 = bwAxis({domain: [fy(506), fy(239)], anchor: 'x2', range: [-0.9, 1.96], tickvals: [0,1],
  minor: {tickvals: [-0.5,0.5,1.5], showgrid: true, gridcolor: '#EBEBEB', gridwidth: 0.5, ticks: ''}});
ctLevels.forEach((lv, i) => {
  const pts = ptsByLevel[i];
  traces.push({type: 'scatter', mode: 'markers', x: pts.map(p => p[0]), y: pts.map(p => p[1]), name: String(lv),
    xaxis: 'x2', yaxis: 'y2', marker: {color: hueColors[i], size: 6}, showlegend: false});
});
// key of panel B: a grid of two levels per column
const legCol = ctLevels.map((_, i) => Math.floor(i / 2));
const legRow = ctLevels.map((_, i) => i % 2);
layout.xaxis19 = {domain: [fx(100), fx(292)], anchor: 'y19', range: [-0.511, 6.03], visible: false, fixedrange: true};
layout.yaxis19 = {domain: [fy(279), fy(248)], anchor: 'x19', range: [1.533, -0.533], visible: false, fixedrange: true};
traces.push({type: 'scatter', mode: 'markers', x: legCol, y: legRow, xaxis: 'x19', yaxis: 'y19', showlegend: false, hoverinfo: 'skip',
  marker: {symbol: 'square-open', size: 14, color: '#d6d6d6', line: {width: 1}}, cliponaxis: false});
traces.push({type: 'scatter', mode: 'markers+text', x: legCol, y: legRow, xaxis: 'x19', yaxis: 'y19', showlegend: false,
  text: ctLevels.map(String), textposition: 'middle right', textfont: {size: 11.5, family: FONT, color: '#000'},
  marker: {color: hueColors, size: 6}, cliponaxis: false, hoverinfo: 'skip'});
ann('Circadian<br>time (h)', 50, 263.5, {xanchor: 'left', align: 'left', font: {size: 11.5, family: FONT}});
ann('SPC 2', 12, 372.5, {textangle: -90});
ann('SPC 1', 168, 535);

// ---- Panel C ----
const cX = [[71.7, 182.7], [190.7, 302]];
[0, 1].forEach(k => {
  const ix = 3 + k;
  layout['xaxis' + ix] = bwAxis({domain: [fx(cX[k][0]), fx(cX[k][1])], anchor: 'y' + ix, range: [-0.652, 0.879],
    tickvals: [-0.5, 0, 0.5], tickformat: '.1f',
    minor: {tickvals: [-0.25, 0.25, 0.75], showgrid: true, gridcolor: '#EBEBEB', gridwidth: 0.5, ticks: ''}});
  layout['yaxis' + ix] = bwAxis({domain: [fy(752.7), fy(583)], anchor: 'x' + ix, type: 'category',
    categoryorder: 'array', categoryarray: genes, range: [12.6, -0.6], autorange: false,
    tickmode: 'array', tickvals: genes, ticktext: genes,
    showticklabels: k === 0, ticks: k === 0 ? 'outside' : '',
    tickfont: {size: 11.5, color: '#333', family: FONT, style: 'italic'}});
  shapes.push({type: 'rect', xref: 'paper', yref: 'paper', x0: fx(cX[k][0]), x1: fx(cX[k][1]), y0: fy(583), y1: fy(558.3),
    fillcolor: '#D9D9D9', line: {color: '#8c8c8c', width: 1}});
  ann(k === 0 ? 'SPC 1' : 'SPC 2', (cX[k][0] + cX[k][1]) / 2, 570.6, {font: {size: 14, family: FONT, color: '#1a1a1a'}});
});
traces.push({type: 'bar', orientation: 'h', x: coefSPC1, y: genes, xaxis: 'x3', yaxis: 'y3', showlegend: false,
  marker: {color: '#66C2A5', line: {color: '#ffffff', width: 0.6}}});
traces.push({type: 'bar', orientation: 'h', x: coefSPC2, y: genes, xaxis: 'x4', yaxis: 'y4', showlegend: false,
  marker: {color: '#FC8D62', line: {color: '#ffffff', width: 0.6}}});
ann('Gene', 9, 667, {textangle: -90});
ann('Coefficient', 187, 784);

// ---- Panel D ----
function dPanel(ix, xPx, topPx, botPx, yr, isBottom, geneName, data) {
  layout['xaxis' + ix] = {domain: [fx(xPx[0]), fx(xPx[1])], anchor: 'y' + ix, range: [15.9, 66.35],
    tickvals: [20,30,40,50,60], showticklabels: isBottom, ticks: isBottom ? 'outside' : '', ticklen: 2.5, tickcolor: '#333',
    tickfont: {size: 11.5, color: '#4d4d4d', family: FONT}, showgrid: true, gridcolor: '#ffffff', gridwidth: 1.1,
    zeroline: false, showline: false, fixedrange: true,
    minor: {tickvals: [25,35,45,55,65], showgrid: true, gridcolor: '#ffffff', gridwidth: 0.45, ticks: ''}};
  layout['yaxis' + ix] = {domain: [fy(botPx), fy(topPx)], anchor: 'x' + ix, range: yr, dtick: 0.5, tick0: 0,
    tickformat: '.1f', ticks: 'outside', ticklen: 3, tickcolor: '#333',
    tickfont: {size: 11.5, color: '#4d4d4d', family: FONT}, showgrid: true, gridcolor: '#ffffff', gridwidth: 1.1,
    zeroline: false, showline: false, fixedrange: true,
    minor: {dtick: 0.25, tick0: 0, showgrid: true, gridcolor: '#ffffff', gridwidth: 0.45, ticks: ''}};
  shapes.push({type: 'rect', xref: 'x' + ix + ' domain', yref: 'y' + ix + ' domain', x0: 0, x1: 1, y0: 0, y1: 1,
    fillcolor: '#EBEBEB', line: {width: 0}, layer: 'below'});
  shapes.push({type: 'rect', xref: 'paper', yref: 'paper', x0: fx(xPx[1] + 0.7), x1: fx(xPx[1] + 23.3), y0: fy(botPx), y1: fy(topPx),
    fillcolor: '#D9D9D9', line: {width: 0}});
  ann('<i>' + geneName + '</i>', xPx[1] + 12, (topPx + botPx) / 2, {textangle: 90, font: {size: 12, family: FONT, color: '#1a1a1a'}});
  tissues.forEach((t, k) => {
    traces.push({type: 'scatter', mode: 'lines', x: timeH, y: data[k], name: t, xaxis: 'x' + ix, yaxis: 'y' + ix,
      line: {color: tissueColors[k], width: 1.3}, showlegend: false});
  });
}
spc1Genes.forEach((g, i) => {
  const top = 38.3 + 89.3 * i;
  dPanel(5 + i, [377.3, 526], top, top + 81.6, spc1RowRanges[i], i === spc1Genes.length - 1, g, spc1Data[i]);
});
spc2Genes.forEach((g, i) => {
  const top = 38.3 + 90 * i;
  dPanel(13 + i, [597.7, 746.7], top, top + 82.6, spc2RowRanges[i], i === spc2Genes.length - 1, g, spc2Data[i]);
});
// key of panel D: two columns of six tissues
const tisCol = tissues.map((_, k) => Math.floor(k / 6));
const tisRow = tissues.map((_, k) => k % 6);
layout.xaxis20 = {domain: [fx(560), fx(780)], anchor: 'y20', range: [-0.1907, 1.8558], visible: false, fixedrange: true};
layout.yaxis20 = {domain: [fy(715), fy(620)], anchor: 'x20', range: [5.798, -0.682], visible: false, fixedrange: true};
traces.push({type: 'scatter', mode: 'markers', x: tisCol, y: tisRow, xaxis: 'x20', yaxis: 'y20', showlegend: false, hoverinfo: 'skip',
  marker: {symbol: 'square', size: 14, color: '#F2F2F2'}, cliponaxis: false});
traces.push({type: 'scatter', mode: 'markers+text', x: tisCol, y: tisRow, xaxis: 'x20', yaxis: 'y20', showlegend: false, hoverinfo: 'skip',
  text: tissues, textposition: 'middle right', textfont: {size: 14, family: FONT, color: '#000'},
  marker: {symbol: 'line-ew', size: 13, color: tissueColors, line: {color: tissueColors, width: 2}}, cliponaxis: false});
ann('SPC 1', 451.6, 26, {font: {size: 14, family: FONT}});
ann('SPC 2', 672.2, 26, {font: {size: 14, family: FONT}});
ann('Expression (norm.)', 337, 391, {textangle: -90, font: {size: 14.5, family: FONT}});
ann('Time (h)', 451.6, 773, {font: {size: 14.5, family: FONT}});
ann('Time (h)', 672.2, 600, {font: {size: 14.5, family: FONT}});

// panel letters
ann('A', 4, 13, {xanchor: 'left', font: {size: 20, family: SERIF}});
ann('B', 4, 243, {xanchor: 'left', font: {size: 20, family: SERIF}});
ann('C', 4, 567, {xanchor: 'left', font: {size: 20, family: SERIF}});
ann('D', 338, 11, {xanchor: 'left', font: {size: 20, family: SERIF}});

Plotly.newPlot('chart', traces, layout, {displayModeBar: false, staticPlot: true});
</script>
</body></html>
